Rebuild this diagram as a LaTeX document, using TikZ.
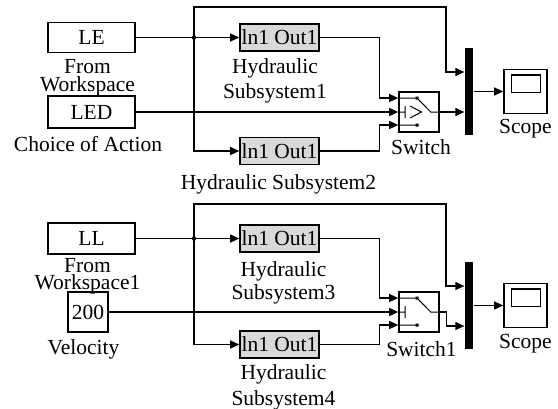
\documentclass[tikz,border=0pt]{standalone}
\usepackage{fontspec}
\setmainfont{Liberation Serif}
\usetikzlibrary{positioning,arrows.meta}

\begin{document}
\begin{tikzpicture}[
  x=1pt, y=-1pt,
  font=\fontsize{21.5}{24}\selectfont,
  line width=1.2pt,
  blk/.style={draw, line width=1.6pt, inner sep=0pt, minimum width=87pt, minimum height=30pt},
  sub/.style={draw, line width=1.6pt, fill=gray!30, inner sep=0pt, minimum width=79pt, minimum height=27pt},
  swbox/.style={draw, line width=1.6pt, inner sep=0pt, minimum size=40pt},
  muxbar/.style={fill=black, inner sep=0pt, minimum width=8pt, minimum height=87pt},
  scopebox/.style={draw, line width=1.6pt, inner sep=0pt, minimum width=43pt, minimum height=44pt},
  lbl/.style={inner sep=0pt, align=center},
  >={Triangle[length=9pt,width=8pt]}
]
\useasboundingbox (0,0) rectangle (558,408);

\node[blk] (le) at (91.5,37.5) {LE};
\node[blk, minimum height=32pt] (led) at (91.5,112) {LED};
\node[sub] (hs1) at (279.5,37.5) {ln1 Out1};
\node[sub] (hs2) at (279.5,151) {ln1 Out1};
\node[swbox] (sw) at (419,112) {};
\node[muxbar] (mux) at (469,91.5) {};
\node[scopebox] (scope) at (525.5,91.5) {};

\node[lbl, font=\fontsize{21.5}{18}\selectfont, below=6pt of le, xshift=-4pt] (lelbl) {From\\Workspace};
\node[lbl, below=6.7pt of led, xshift=-3.5pt] (ledlbl) {Choice of Action};
\node[lbl, font=\fontsize{21.5}{25}\selectfont, below=5.7pt of hs1, xshift=-4.5pt] (hs1lbl) {Hydraulic\\Subsystem1};
\node[lbl, below=8.7pt of hs2, xshift=-1pt] (hs2lbl) {Hydraulic Subsystem2};
\node[lbl, below=5.7pt of sw, xshift=2pt] (swlbl) {Switch};
\node[lbl, below=4.2pt of scope] (scopelbl) {Scope};

\node[blk, minimum height=31pt] (ll) at (91.5,238.5) {LL};
\node[swbox] (vel) at (88,312) {200};
\node[sub] (hs3) at (279.5,238.5) {ln1 Out1};
\node[sub] (hs4) at (279.5,344.5) {ln1 Out1};
\node[swbox] (sw1) at (419,312) {};
\node[muxbar] (mux1) at (469,305.5) {};
\node[scopebox] (scope1) at (525.5,305.5) {};

\node[lbl, font=\fontsize{21.5}{15}\selectfont, below=3.5pt of ll, xshift=-4pt] (lllbl) {From\\Workspace1};
\node[lbl, below=5.7pt of vel, xshift=-4.5pt] (vellbl) {Velocity};
\node[lbl, font=\fontsize{21.5}{23}\selectfont, below=7.7pt of hs3, xshift=4pt] (hs3lbl) {Hydraulic\\Subsystem3};
\node[lbl, font=\fontsize{21.5}{26}\selectfont, below=5pt of hs4, xshift=4pt] (hs4lbl) {Hydraulic\\Subsystem4};
\node[lbl, below=7.7pt of sw1, xshift=2.5pt] (sw1lbl) {Switch1};
\node[lbl, below=5.2pt of scope1] (scope1lbl) {Scope};

\coordinate (d1) at (194,37.5);
\coordinate (t1) at (446,7);
\coordinate (d2) at (194,238.5);
\coordinate (t2) at (446,204);

\draw[->] (le) -- (hs1);
\fill (d1) circle (2.2pt);
\draw[->] (d1) |- (hs2);
\draw[->] (d1) |- (t1) |- ([yshift=19.5pt]mux.west);
\draw[->] (led) -- (sw);
\draw[->] (hs1.east) -- ++(60,0) |- ([yshift=14pt]sw.west);
\draw[->] (hs2.east) -- ++(60,0) |- ([yshift=-13pt]sw.west);
\draw[->] (sw.east) -- (sw.east -| mux.west);
\draw[->] (mux) -- (scope);

\draw[->] (ll) -- (hs3);
\fill (d2) circle (2.2pt);
\draw[->] (d2) |- (hs4);
\draw[->] (d2) |- (t2) |- ([yshift=19.5pt]mux1.west);
\draw[->] (vel) -- (sw1);
\draw[->] (hs3.east) -- ++(60,0) |- ([yshift=14pt]sw1.west);
\draw[->] (hs4.east) -- ++(60,0) |- ([yshift=-13pt]sw1.west);
\draw[->] (sw1.east) -- ++(7,0) |- ([yshift=-20.5pt]mux1.west);
\draw[->] (mux1) -- (scope1);

\foreach \s in {sw,sw1} {
  \draw[shift={(\s.center)}, line width=1pt] (-20,-14) -- (-2,-14) (-20,13) -- (-2,13)
    (-2,-14) -- (11.7,0) -- (20,0) (-20,0) -- (-14,0) (-14,-6) -- (-14,6);
  \fill[shift={(\s.center)}] (-3.5,-15.5) rectangle (-0.5,-12.5) (-3.5,11.5) rectangle (-0.5,14.5);
}
\draw[shift={(sw.center)}, line width=1pt] (-9,-6) -- (2.5,0) -- (-9,6);
\foreach \s in {scope,scope1}
  \draw[shift={(\s.center)}, line width=1.4pt] (-14,-16.5) rectangle (15,1);
\end{tikzpicture}
\end{document}
